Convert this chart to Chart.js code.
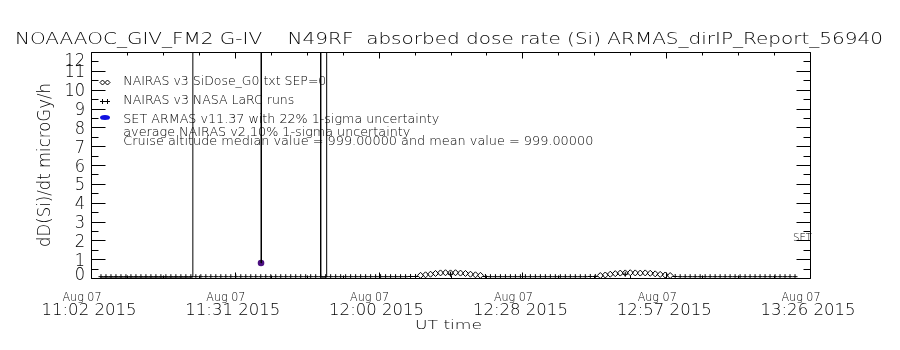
<!DOCTYPE html>
<html>
<head>
<meta charset="utf-8">
<script src="https://cdn.jsdelivr.net/npm/chart.js@4.4.1/dist/chart.umd.min.js"></script>
<style>
  html, body { margin: 0; background: #fff; }
  canvas { display: block; }
</style>
</head>
<body>
<canvas id="doseChart" width="900" height="350"></canvas>
<script>
// x values are minutes after 11:02 UT, 07 Aug 2015
const xTickValues = [0, 28.8, 57.6, 86.4, 115.2, 144];
const xDateLabels = ['Aug 07', 'Aug 07', 'Aug 07', 'Aug 07', 'Aug 07', 'Aug 07'];
const xTimeLabels = ['11:02 2015', '11:31 2015', '12:00 2015', '12:28 2015', '12:57 2015', '13:26 2015'];
const yTickLabels = ['0', '1', '2', '3', '4', '5', '6', '7', '8', '9', '10', '11', '12'];

// ARMAS raw dose rate, 999 = fill value
const rawTimes = [1.8, 4, 6, 8, 10, 12, 14, 16, 18, 20.26, 20.4, 33.95, 34.05, 34.15, 45.9, 46.0, 47.1, 47.2];
const rawDose  = [0.05, 0.05, 0.05, 0.05, 0.05, 0.05, 0.05, 0.05, 0.05, 0.05, 999, 999, 0.8, 999, 999, 0.05, 0.05, 999];

// SET ARMAS v11.37 point
const armasTimes = [34.05];
const armasDose  = [0.8];

// NAIRAS samples, one per minute from 11:04
const firstSample = 2;
const sampleStep = 1;

const larcDose = [
  0.07, 0.07, 0.07, 0.07, 0.07, 0.07, 0.07, 0.07, 0.07, 0.07,
  0.07, 0.07, 0.07, 0.07, 0.07, 0.07, 0.07, 0.07, 0.07, 0.07,
  0.07, 0.07, 0.07, 0.07, 0.07, 0.07, 0.07, 0.07, 0.07, 0.07,
  0.07, 0.07, 0.07, 0.07, 0.07, 0.07, 0.07, 0.07, 0.07, 0.07,
  0.07, 0.07, 0.07, 0.07, 0.07, 0.07, 0.07, 0.07, 0.07, 0.07,
  0.07, 0.07, 0.07, 0.07, 0.07, 0.07, 0.07, 0.07, 0.07, 0.07,
  0.07, 0.07, 0.08, 0.08, null, null, null, null, null, null,
  0.2,  null, null, null, null, null, null, 0.08, 0.07, 0.07,
  0.07, 0.07, 0.07, 0.07, 0.07, 0.07, 0.07, 0.07, 0.07, 0.07,
  0.07, 0.07, 0.07, 0.07, 0.07, 0.07, 0.07, 0.07, 0.08, 0.08,
  null, null, null, null, null, 0.2,  null, null, null, null,
  null, null, null, null, null, 0.08, 0.07, 0.07, 0.07, 0.07,
  0.07, 0.07, 0.07, 0.07, 0.07, 0.07, 0.07, 0.07, 0.07, 0.07,
  0.07, 0.07, 0.07, 0.07, 0.07, 0.07, 0.07, 0.07, 0.07, 0.07
];

const siDose = [
  null, null, null, null, null, null, null, null, null, null,
  null, null, null, null, null, null, null, null, null, null,
  null, null, null, null, null, null, null, null, null, null,
  null, null, null, null, null, null, null, null, null, null,
  null, null, null, null, null, null, null, null, null, null,
  null, null, null, null, null, null, null, null, null, null,
  null, null, null, null, 0.14, 0.17, 0.2,  0.24, 0.27, 0.28,
  0.27, 0.28, 0.26, 0.24, 0.2,  0.17, 0.14, null, null, null,
  null, null, null, null, null, null, null, null, null, null,
  null, null, null, null, null, null, null, null, null, null,
  0.13, 0.16, 0.2,  0.23, 0.26, 0.27, 0.28, 0.27, 0.26, 0.27,
  0.25, 0.22, 0.19, 0.16, 0.13, null, null, null, null, null,
  null, null, null, null, null, null, null, null, null, null,
  null, null, null, null, null, null, null, null, null, null
];

const titleText = 'NOAAAOC_GIV_FM2 G-IV    N49RF  absorbed dose rate (Si) ARMAS_dirIP_Report_56940';
const yTitle = 'dD(Si)/dt microGy/h';
const xTitle = 'UT time';
const legendLines = [
  'NAIRAS v3 SiDose_G0.txt SEP=0',
  'NAIRAS v3 NASA LaRC runs',
  'SET ARMAS v11.37 with 22% 1-sigma uncertainty',
  'average NAIRAS v2 10% 1-sigma uncertainty',
  'Cruise altitude median value = 999.00000 and mean value = 999.00000'
];

const FONT = '200 {size}px "DejaVu Sans", "Liberation Sans", sans-serif';

function toPoints(times, values) {
  return times.map((t, i) => ({ x: t, y: values[i] }));
}
function sampled(values) {
  return values.map((v, i) => ({ x: firstSample + i * sampleStep, y: v }));
}

// thin text, stretched to a width or by a fixed factor
function stretchText(ctx, text, x, y, size, align, width, factor) {
  ctx.font = FONT.replace('{size}', size);
  const natural = ctx.measureText(text).width;
  const sx = width ? width / natural : (factor || 1);
  ctx.save();
  ctx.translate(x, y);
  ctx.scale(sx, 1);
  ctx.textAlign = align;
  ctx.textBaseline = 'alphabetic';
  ctx.fillStyle = '#000';
  ctx.fillText(text, 0, 0);
  ctx.restore();
}

const frameAndLabels = {
  id: 'frameAndLabels',
  afterDraw(chart) {
    const { ctx, chartArea: a, scales: { x, y } } = chart;
    const L = a.left + 0.5, R = a.right + 0.5, T = a.top + 0.5, B = a.bottom + 0.5;
    ctx.save();
    ctx.strokeStyle = '#000';
    ctx.lineWidth = 1;
    ctx.beginPath();
    ctx.rect(L, T, R - L, B - T);

    // inward ticks, halves on y, 4 minor per major on x
    for (let k = 0; k <= 24; k++) {
      const py = Math.round(y.getPixelForValue(k / 2)) + 0.5;
      const len = k % 2 === 0 ? 14 : 7;
      ctx.moveTo(L, py); ctx.lineTo(L + len, py);
      ctx.moveTo(R, py); ctx.lineTo(R - len, py);
    }
    for (let k = 0; k <= 20; k++) {
      const px = Math.round(x.getPixelForValue(k * 7.2)) + 0.5;
      const len = k % 4 === 0 ? 6 : 3;
      ctx.moveTo(px, B); ctx.lineTo(px, B - len);
      ctx.moveTo(px, T); ctx.lineTo(px, T + len);
    }
    ctx.stroke();

    // y tick labels, kept inside the axis span
    yTickLabels.forEach((lab, i) => {
      const c = Math.min(Math.max(y.getPixelForValue(i), a.top + 7), a.bottom - 5);
      stretchText(ctx, lab, 85, c + 6.5, 18, 'right', 0, 0.9);
    });

    // x tick labels, two lines
    xTickValues.forEach((v, i) => {
      const px = x.getPixelForValue(v);
      stretchText(ctx, xDateLabels[i], px - 9, 300.5, 12, 'center', 39);
      stretchText(ctx, xTimeLabels[i], px - 2, 314.5, 16.5, 'center', 95);
    });

    stretchText(ctx, titleText, 15, 43.5, 16, 'left', 868);
    stretchText(ctx, xTitle, 448.5, 329, 13, 'center', 67);

    ctx.save();
    ctx.translate(50, (a.top + a.bottom) / 2);
    ctx.rotate(-Math.PI / 2);
    stretchText(ctx, yTitle, 0, 0, 18.5, 'center', 164);
    ctx.restore();

    // legend
    const lx = 123.3;
    stretchText(ctx, legendLines[0], lx, 85, 12.5, 'left', 203);
    stretchText(ctx, legendLines[1], lx, 103.5, 12.5, 'left', 171);
    stretchText(ctx, legendLines[2], lx, 123, 12.5, 'left', 316);
    stretchText(ctx, legendLines[3], lx, 136, 12.5, 'left', 287);
    stretchText(ctx, legendLines[4], lx, 145, 12.5, 'left', 470);

    ctx.beginPath();
    [102.5, 107.5].forEach(cx => {
      const cy = 82.5, r = 2.5;
      ctx.moveTo(cx - r, cy); ctx.lineTo(cx, cy - r); ctx.lineTo(cx + r, cy); ctx.lineTo(cx, cy + r); ctx.closePath();
      ctx.moveTo(cx - r, 101.5); ctx.lineTo(cx + r, 101.5);
      ctx.moveTo(cx, 99); ctx.lineTo(cx, 104);
    });
    ctx.stroke();
    ctx.fillStyle = '#1010e0';
    ctx.beginPath();
    ctx.ellipse(105, 117.5, 5, 2.5, 0, 0, Math.PI * 2);
    ctx.fill();

    stretchText(ctx, 'SET', 793, 240.5, 11, 'left', 19);
    ctx.restore();
  }
};

new Chart(document.getElementById('doseChart'), {
  type: 'line',
  data: {
    datasets: [{
      label: 'ARMAS dose rate',
      data: toPoints(rawTimes, rawDose),
      borderColor: '#000',
      borderWidth: 1,
      pointRadius: 0,
      tension: 0
    }, {
      label: 'NAIRAS v3 NASA LaRC runs',
      data: sampled(larcDose),
      showLine: false,
      pointStyle: 'cross',
      pointRadius: 2.5,
      pointBorderWidth: 1,
      pointBorderColor: '#000'
    }, {
      label: 'NAIRAS v3 SiDose_G0.txt SEP=0',
      data: sampled(siDose),
      showLine: false,
      pointStyle: 'rectRot',
      pointRadius: 3,
      pointBorderWidth: 1,
      pointBorderColor: '#000',
      pointBackgroundColor: 'rgba(255,255,255,0)'
    }, {
      label: 'SET ARMAS v11.37',
      data: toPoints(armasTimes, armasDose),
      showLine: false,
      pointStyle: 'circle',
      pointRadius: 3.3,
      pointBorderWidth: 0,
      pointBackgroundColor: '#4b0f80'
    }]
  },
  options: {
    responsive: false,
    animation: false,
    devicePixelRatio: 1,
    layout: { padding: { left: 91, top: 52, right: 90, bottom: 72 } },
    plugins: {
      legend: { display: false },
      tooltip: { enabled: false }
    },
    scales: {
      x: { type: 'linear', min: 0, max: 144, display: false },
      y: { min: 0, max: 12, display: false }
    }
  },
  plugins: [frameAndLabels]
});
</script>
</body>
</html>
